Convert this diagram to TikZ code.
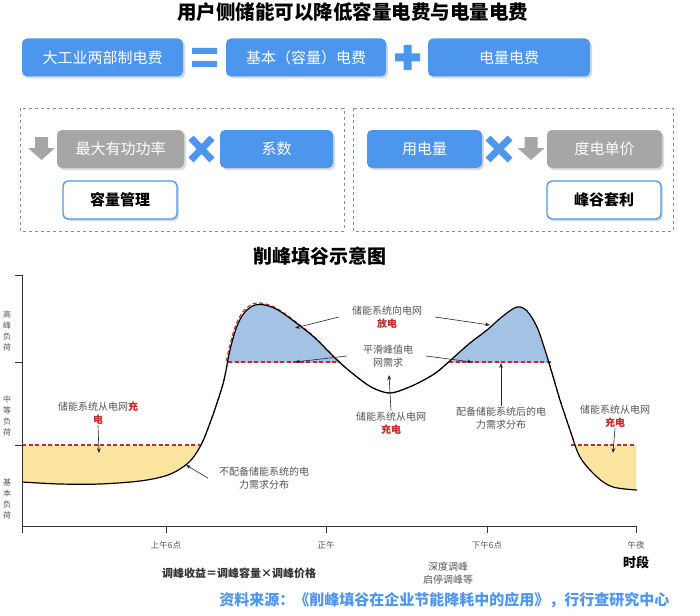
\documentclass[tikz,border=0pt]{standalone}
\usepackage{fontspec}
\setmainfont{Noto Sans CJK SC}
\usepackage{xcolor}
\usepackage{tikz}
\usetikzlibrary{positioning, arrows.meta, shadows}

\definecolor{boxblue}{RGB}{77,150,238}
\definecolor{boxgray}{RGB}{166,166,166}
\definecolor{framegray}{RGB}{140,140,140}
\definecolor{peakblue}{RGB}{164,194,228}
\definecolor{valleyyellow}{RGB}{251,228,160}
\definecolor{chargered}{RGB}{200,40,40}
\definecolor{notegray}{RGB}{85,85,85}

\newcommand{\boxfont}{\fontsize{15}{18}\selectfont}
\newcommand{\notefont}{\fontsize{10}{13}\selectfont}
\newcommand{\chg}[1]{\textcolor{chargered}{\bfseries #1}}
% load curve of the day (pixel-like units, y downwards)
\def\loadcurve{plot[smooth, tension=0.55] coordinates {
    (22,482) (60,484) (100,484) (140,481) (165,476) (180,469) (192,459)
    (202,443) (210,423) (217,403) (224,380) (230,350) (237,326) (245,312)
    (255,305) (265,305) (278,310) (295,322) (315,338) (337,360) (357,377)
    (373,388) (390,393) (407,388) (422,381) (437,372) (453,358) (470,343)
    (487,330) (503,316) (517,307) (527,311) (537,327) (545,350) (552,373)
    (560,400) (570,430) (580,457) (597,477) (613,487) (637,490)}}

\begin{document}
\begin{tikzpicture}[
    x=1pt, y=-1pt,
    box/.style={rectangle, rounded corners=5pt, align=center, inner sep=2pt, fill=#1, text=white, font=\boxfont,
        minimum height=38pt, drop shadow={shadow xshift=2pt, shadow yshift=-2pt, opacity=0.3}},
    box/.default=boxblue,
    graybox/.style={box=boxgray},
    outbox/.style={box=white, draw=boxblue, line width=1.3pt, text=black, font=\boxfont\bfseries},
    timesign/.style={line width=7pt, draw=boxblue},
    frame/.style={draw=framegray, dashed, line width=1pt},
    axisline/.style={line width=0.9pt, draw=black!80},
    ticklabel/.style={font=\fontsize{8.5}{10}\selectfont, text=notegray, inner sep=1pt},
    ylabel/.style={align=center, font=\fontsize{8}{11}\selectfont, text=notegray, inner sep=0pt},
    note/.style={align=center, font=\notefont, text=notegray, inner sep=1pt},
    notearr/.style={-{Stealth[length=5pt]}, line width=0.6pt, black!85},
    reddash/.style={draw=chargered, line width=1.1pt, dash pattern=on 4pt off 2.5pt},
    loadline/.style={draw=black, line width=1.2pt},
]
    \useasboundingbox (0,0) rectangle (700,615);

    % --- top: two-part tariff ---
    \node[font=\bfseries\fontsize{19.5}{21}\selectfont] (title) at (352.5,12) {用户侧储能可以降低容量电费与电量电费};

    \node[box, minimum width=161pt] (twopart) at (102.5,57.5) {大工业两部制电费};
    \node[box, minimum width=160pt] (capfee) at (306,57.5) {基本（容量）电费};
    \node[box, minimum width=162pt] (energyfee) at (509,57.5) {电量电费};

    % = and +
    \fill[boxblue] (192,48) rectangle (217,54) (192,61) rectangle (217,67);
    \fill[boxblue] (395,53.5) rectangle (420,61.5) (403.5,45) rectangle (411.5,70);

    % dashed groups
    \draw[frame] (20,108) rectangle (344,231);
    \draw[frame] (353,108) rectangle (673,231);

    \node[graybox, minimum width=127pt] (maxpower) at (120.5,149) {最大有功功率};
    \node[box, minimum width=113pt] (factor) at (276.5,149) {系数};
    \node[outbox, minimum width=114pt] (capmgmt) at (120,200) {容量管理};

    \node[box, minimum width=115pt] (usage) at (424.5,149) {用电量};
    \node[graybox, minimum width=115pt] (unitprice) at (604.5,149) {度电单价};
    \node[outbox, minimum width=114pt] (arbitrage) at (604,200) {峰谷套利};

    % x signs
    \draw[timesign] (191,138) -- (212,160) (212,138) -- (191,160);
    \draw[timesign] (488,138) -- (510,160) (510,138) -- (488,160);

    % gray "reduce" arrows
    \foreach \ax in {41.5,531}
        \fill[boxgray] (\ax-6.5,137) -- (\ax+6.5,137) -- (\ax+6.5,148) -- (\ax+13.5,148)
            -- (\ax,160) -- (\ax-13.5,148) -- (\ax-6.5,148) -- cycle;

    % --- bottom: peak shaving chart ---
    \node[font=\bfseries\fontsize{19}{21}\selectfont] (charttitle) at (320,256) {削峰填谷示意图};

    % fills (closing edge kept just outside the clip, so no seam shows)
    \begin{scope}
        \clip (22,270) rectangle (636,362);
        \fill[peakblue] \loadcurve -- (637,364) -- (22,364) -- cycle;
    \end{scope}
    \begin{scope}
        \clip (22,445) rectangle (636,525);
        \fill[valleyyellow] \loadcurve -- (637,443) -- (22,443) -- cycle;
    \end{scope}

    % demand with storage (red dashed)
    \begin{scope}
        \clip (22,362) rectangle (636,445);
        \draw[reddash] \loadcurve;
    \end{scope}
    \begin{scope}
        \clip (200,270) rectangle (345,362);
        \draw[reddash, xshift=-1pt, yshift=1.5pt] \loadcurve;
    \end{scope}
    \draw[reddash] (22,445) -- (201,445);
    \draw[reddash] (228,362) -- (339,362);
    \draw[reddash] (449,362) -- (552,362);
    \draw[reddash] (571,445) -- (636,445);

    % demand without storage
    \draw[loadline] \loadcurve;

    % axes
    \draw[axisline] (15,275) -- (22,275) -- (22,526) -- (636,526);
    \foreach \ty in {362,445}
        \draw[axisline] (15,\ty) -- (22,\ty);
    \foreach \tx in {22,166,326,487,636}
        \draw[axisline] (\tx,526) -- (\tx,533);

    \node[ylabel] (peaklab) at (7,331) {高\\峰\\负\\荷};
    \node[ylabel] (midlab) at (7,416) {中\\等\\负\\荷};
    \node[ylabel] (baselab) at (7,499) {基\\本\\负\\荷};

    \foreach \tx/\lab/\nm in {166/上午6点/am6, 326/正午/noon, 487/下午6点/pm6, 636/午夜/midnight}
        \node[ticklabel] (\nm) at (\tx,545) {\lab};
    \node[font=\bfseries\fontsize{13}{15}\selectfont] (timelab) at (636,562) {时段};

    % annotations
    \node[note] (chgleft) at (98,413) {储能系统从电网\chg{充}\\\chg{电}};
    \coordinate (chgleftend) at (99,453);
    \draw[notearr] (chgleft.south) -- (chgleftend);

    \node[note] (nostore) at (264,478) {不配备储能系统的电\\力需求分布};
    \coordinate (nostoreend) at (186,465);
    \draw[notearr] ([xshift=-10pt]nostore.west) -- (nostoreend);

    \node[note] (dischg) at (387,317) {储能系统向电网\\\chg{放电}};
    \coordinate (dischgleft) at (295,328);
    \coordinate (dischgright) at (490,325);
    \draw[notearr] ([xshift=-12pt]dischg.west) -- (dischgleft);
    \draw[notearr] ([xshift=12pt]dischg.east) -- (dischgright);

    \node[note] (smooth) at (388,356) {平滑峰值电\\网需求};
    \coordinate (smoothleft) at (295,362);
    \coordinate (smoothright) at (472,362);
    \draw[notearr] ([xshift=-15pt]smooth.west) -- (smoothleft);
    \draw[notearr] ([xshift=12pt]smooth.east) -- (smoothright);

    \node[note] (chgmid) at (391,423) {储能系统从电网\\\chg{充电}};
    \coordinate (chgmidend) at (389,375);
    \draw[notearr] (chgmid.north) -- (chgmidend);

    \node[note] (withstore) at (501,418) {配备储能系统后的电\\力需求分布};
    \coordinate (withstoreend) at (501,363);
    \draw[notearr] (withstore.north) -- (withstoreend);

    \node[note] (chgright) at (615,416) {储能系统从电网\\\chg{充电}};
    \coordinate (chgrightend) at (613,453);
    \draw[notearr] (chgright.south) -- (chgrightend);

    % formula, remark and source
    \node[font=\bfseries\fontsize{11}{13}\selectfont, text=black!80] (revenue) at (239,573) {调峰收益＝调峰容量×调峰价格};
    \node[note] (deeppeak) at (448,573) {深度调峰\\启停调峰等};
    \node[anchor=east, font=\bfseries\fontsize{15}{16}\selectfont, text=boxblue] (source) at (673,600)
        {资料来源：《削峰填谷在企业节能降耗中的应用》，行行查研究中心};
\end{tikzpicture}
\end{document}
